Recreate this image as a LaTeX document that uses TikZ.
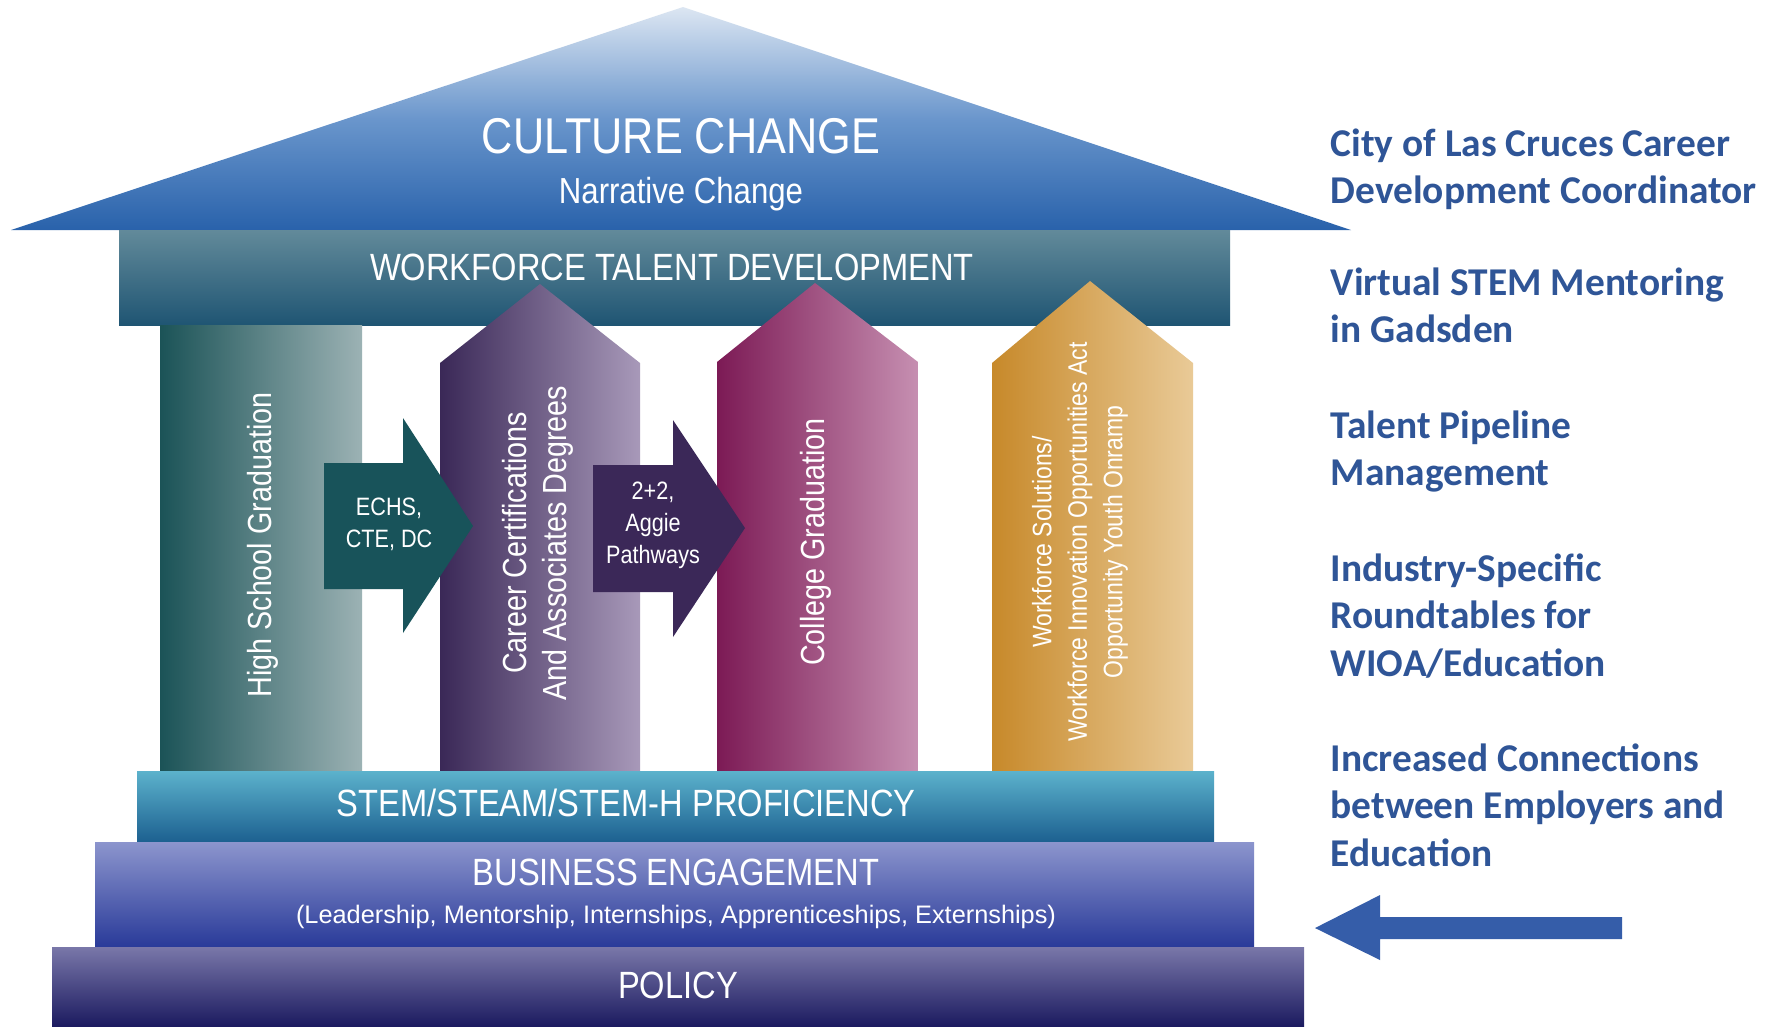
\documentclass[tikz,border=0pt]{standalone}
\usepackage{xcolor}
\usepackage{fontspec}
\setmainfont{Liberation Sans}
\newfontfamily\condfont[FakeStretch=0.86]{Liberation Sans}
\newfontfamily\sidefont{Carlito}
\usepackage{tikz}
\usetikzlibrary{calc, positioning}

\definecolor{roofTop}{HTML}{DCE6F2}
\definecolor{roofMid}{HTML}{6A96CC}
\definecolor{roofBot}{HTML}{2962AB}
\definecolor{wtdTop}{HTML}{628A9A}
\definecolor{wtdBot}{HTML}{1F5573}
\definecolor{hsLeft}{HTML}{1B5357}
\definecolor{hsRight}{HTML}{9CB2B4}
\definecolor{ccLeft}{HTML}{3A2857}
\definecolor{ccRight}{HTML}{A899B9}
\definecolor{cgLeft}{HTML}{7C1A55}
\definecolor{cgRight}{HTML}{C68FB1}
\definecolor{wsLeft}{HTML}{C7892A}
\definecolor{wsRight}{HTML}{E9CA97}
\definecolor{echsFill}{HTML}{18535A}
\definecolor{aggieFill}{HTML}{3B2858}
\definecolor{stemTop}{HTML}{5CB2CC}
\definecolor{stemBot}{HTML}{1C6090}
\definecolor{busTop}{HTML}{8C95CD}
\definecolor{busBot}{HTML}{293A99}
\definecolor{polTop}{HTML}{7977A9}
\definecolor{polBot}{HTML}{1C1B60}
\definecolor{sideBlue}{HTML}{2F5597}
\definecolor{pointBlue}{HTML}{355DA9}

\tikzstyle{bigtext}    = [text=white, inner sep=0pt, anchor=base, font=\condfont\fontsize{14.3}{17}\selectfont]
\tikzstyle{bandtext}   = [text=white, inner sep=0pt, anchor=base, font=\condfont\fontsize{10.8}{13}\selectfont]
\tikzstyle{subtext}    = [text=white, inner sep=0pt, anchor=base, font=\fontsize{7.2}{9}\selectfont]
\tikzstyle{pillartext} = [text=white, inner sep=0pt, rotate=90, align=center, font=\condfont\fontsize{9.5}{11.4}\selectfont]
\tikzstyle{arrowtext}  = [text=white, inner sep=0pt, align=center, font=\condfont\fontsize{7.15}{9.1}\selectfont]
\tikzstyle{sidetext}   = [text=sideBlue, inner sep=0pt, anchor=north west, align=left, font=\sidefont\bfseries\fontsize{11.2}{13.5}\selectfont]

\begin{document}
\begin{tikzpicture}[x=0.01cm, y=-0.01cm]
    \useasboundingbox (0,0) rectangle (1777,1026);
    \fill [white] (0,0) rectangle (1777,1026);

    % roof and beam
    \shade [top color=roofTop, bottom color=roofBot, middle color=roofMid] (11,230) -- (683,7) -- (1351,230) -- cycle;
    \shade [top color=wtdTop, bottom color=wtdBot] (119,230) rectangle (1230,325);

    % pillars
    \shade [left color=hsLeft, right color=hsRight] (160,325) rectangle (362,775);
    \shade [left color=ccLeft, right color=ccRight] (440,775) -- (440,363) -- (540,284) -- (640,363) -- (640,775) -- cycle;
    \shade [left color=cgLeft, right color=cgRight] (717,775) -- (717,362) -- (815,283) -- (918,362) -- (918,775) -- cycle;
    \shade [left color=wsLeft, right color=wsRight] (992,775) -- (992,363) -- (1090,281) -- (1193,363) -- (1193,775) -- cycle;

    % bridges between pillars
    \fill [echsFill]  (324,463) -- (403,463) -- (403,418) -- (473,526) -- (403,633) -- (403,589) -- (324,589) -- cycle;
    \fill [aggieFill] (593,465) -- (673,465) -- (673,420) -- (745,528) -- (673,637) -- (673,592) -- (593,592) -- cycle;

    % foundation
    \shade [top color=stemTop, bottom color=stemBot] (137,771) rectangle (1214,842);
    \shade [top color=busTop, bottom color=busBot] (95,842) rectangle (1254,947);
    \shade [top color=polTop, bottom color=polBot] (52,947) rectangle (1304,1026);

    % pointer
    \fill [pointBlue] (1315,928) -- (1380,895) -- (1380,917) -- (1622,917) -- (1622,939) -- (1380,939) -- (1380,960) -- cycle;

    % labels
    \node (culture)   [bigtext] at (681,153) {CULTURE CHANGE};
    \node (narrative) [bandtext, font=\condfont\fontsize{10.3}{12}\selectfont] at (681,203) {Narrative Change};
    \node (workforce) [bandtext] at (672,280) {WORKFORCE TALENT DEVELOPMENT};

    \node (highschool) [pillartext, anchor=base] at (271,545) {High School Graduation};
    \node (career)     [pillartext] at (538,543) {Career Certifications\\And Associates Degrees};
    \node (college)    [pillartext, anchor=base] at (824,542) {College Graduation};
    \node (solutions)  [pillartext, font=\condfont\fontsize{7.6}{10.1}\selectfont] at (1080,542) {Workforce Solutions/\\Workforce Innovation Opportunities Act\\Opportunity Youth Onramp};

    \node (echs)  [arrowtext] at (389,524) {ECHS,\\CTE, DC};
    \node (aggie) [arrowtext] at (653,525) {2+2,\\Aggie\\Pathways};

    \node (stem)     [bandtext] at (626,816) {STEM/STEAM/STEM-H PROFICIENCY};
    \node (business) [bandtext] at (676,885) {BUSINESS ENGAGEMENT};
    \node (roles)    [subtext]  at (676,923) {(Leadership, Mentorship, Internships, Apprenticeships, Externships)};
    \node (policy)   [bandtext] at (678,998) {POLICY};

    % initiatives
    \node (city)        [sidetext] at (1330,128) {City of Las Cruces Career\\Development Coordinator};
    \node (virtual)     [sidetext] at (1330,267) {Virtual STEM Mentoring\\in Gadsden};
    \node (pipeline)    [sidetext] at (1330,410) {Talent Pipeline\\Management};
    \node (roundtables) [sidetext] at (1330,553) {Industry-Specific\\Roundtables for\\WIOA/Education};
    \node (connections) [sidetext] at (1330,743) {Increased Connections\\between Employers and\\Education};

\end{tikzpicture}
\end{document}
